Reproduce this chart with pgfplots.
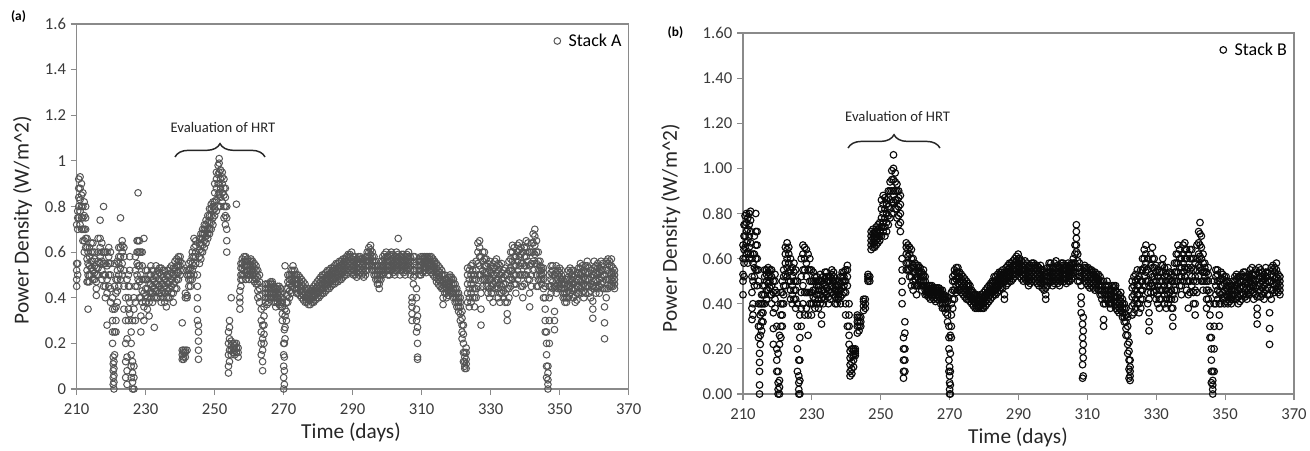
\documentclass[border=0pt]{standalone}
\usepackage{fontspec}
\setmainfont{Carlito}
\usepackage{pgfplots}
\usepackage{pgfplotstable}
\pgfplotsset{compat=1.18}
\usetikzlibrary{decorations.pathreplacing}

\definecolor{axisgray}{HTML}{8A8A8A}
\definecolor{tickgray}{HTML}{3A3A3A}
\definecolor{markA}{HTML}{555555}
\definecolor{markB}{HTML}{0A0A0A}

% Stack A: day, then up to five readings per row (nan = none)
\pgfplotstableread{
x a b c d e
210.0 0.45 0.48 0.52 0.55 0.72
210.3 0.50 0.70 0.75 0.78 0.55
210.6 0.75 0.80 0.84 0.88 0.92
211.0 0.72 0.78 0.83 0.88 0.93
211.4 0.70 0.75 0.80 0.85 0.90
211.8 0.65 0.70 0.75 0.80 0.86
212.2 0.60 0.65 0.70 0.76 0.82
212.6 0.62 0.66 0.70 0.75 0.80
213.0 0.47 0.52 0.57 0.62 0.66
213.3 0.35 0.47 0.50 0.55 0.60
213.7 0.47 0.50 0.54 0.58 0.62
214.2 0.50 0.53 0.56 0.60 0.64
214.7 0.48 0.52 0.56 0.60 0.64
215.2 0.48 0.51 0.54 0.57 0.60
215.7 0.41 0.44 0.47 0.50 0.53
216.2 0.50 0.53 0.56 0.60 0.66
216.8 0.55 0.58 0.62 0.66 0.74
217.3 0.48 0.52 0.56 0.60 0.64
217.8 0.45 0.50 0.55 0.60 0.80
218.3 0.40 0.45 0.50 0.55 0.60
218.8 0.28 0.42 0.48 0.54 0.60
219.3 0.45 0.50 0.55 0.58 0.62
219.8 0.38 0.44 0.50 0.55 0.60
220.4 0.20 0.25 0.30 0.35 0.40
220.6 0.02 0.05 0.08 0.11 0.14
220.8 0.00 0.03 0.06 0.09 0.12
221.0 0.15 0.25 0.35 0.45 0.55
221.4 0.25 0.30 0.36 0.42 0.48
221.8 0.38 0.43 0.48 0.52 0.56
222.2 0.45 0.50 0.55 0.58 0.62
222.7 0.48 0.53 0.58 0.62 0.75
223.2 0.50 0.55 0.60 0.63 0.65
223.7 0.35 0.45 0.52 0.58 0.62
224.2 0.05 0.12 0.20 0.30 0.40
224.6 0.02 0.08 0.14 0.22 0.48
225.0 0.30 0.35 0.40 0.45 0.50
225.4 0.33 0.38 0.45 0.52 0.58
225.8 0.05 0.10 0.15 0.20 0.25
226.2 0.00 0.03 0.07 0.12 0.30
226.6 0.00 0.05 0.10 0.35 0.40
227.0 0.30 0.38 0.45 0.52 0.58
227.5 0.45 0.50 0.55 0.60 0.65
227.8 0.48 0.54 0.60 0.65 0.86
228.2 0.40 0.47 0.54 0.60 0.65
228.6 0.25 0.32 0.40 0.50 0.60
229.0 0.38 0.43 0.48 0.54 0.60
229.5 0.30 0.36 0.42 0.48 0.66
230.0 0.38 0.41 0.44 0.48 0.52
230.5 0.35 0.40 0.44 0.48 0.52
231.0 0.32 0.38 0.42 0.46 0.50
231.5 0.40 0.43 0.46 0.50 0.54
232.0 0.38 0.42 0.45 0.48 0.52
232.5 0.27 0.40 0.44 0.47 0.50
233.0 0.40 0.43 0.46 0.49 0.54
233.5 0.40 0.43 0.46 0.50 0.52
234.0 0.42 0.45 0.48 0.51 0.53
234.5 0.38 0.42 0.46 0.50 0.53
235.0 0.40 0.43 0.46 0.49 0.52
235.5 0.38 0.42 0.45 0.48 0.52
236.0 0.36 0.40 0.44 0.47 0.50
236.5 0.40 0.43 0.46 0.49 0.52
237.0 0.40 0.44 0.47 0.50 0.53
237.5 0.42 0.45 0.48 0.51 0.54
238.0 0.38 0.42 0.46 0.50 0.53
238.5 0.44 0.47 0.50 0.53 0.56
239.0 0.44 0.48 0.51 0.54 0.57
239.5 0.48 0.51 0.54 0.56 0.58
240.0 0.50 0.52 0.54 0.56 0.58
240.6 0.13 0.15 0.17 0.29 0.55
241.0 0.13 0.14 0.16 0.17 0.52
241.5 0.14 0.16 0.17 0.40 0.42
242.0 0.40 0.41 0.17 0.50 0.52
242.5 0.45 0.48 0.50 0.52 0.55
243.0 0.45 0.48 0.50 0.53 0.56
243.5 0.48 0.52 0.55 0.58 0.60
244.0 0.50 0.54 0.58 0.62 0.66
244.5 0.55 0.58 0.60 0.63 0.65
245.0 0.30 0.35 0.40 0.45 0.50
245.3 0.13 0.17 0.21 0.25 0.28
245.6 0.55 0.58 0.61 0.64 0.66
246.0 0.57 0.60 0.63 0.66 0.68
246.5 0.60 0.63 0.66 0.68 0.70
247.0 0.62 0.65 0.68 0.70 0.72
247.5 0.64 0.67 0.70 0.72 0.74
248.0 0.66 0.68 0.70 0.73 0.76
248.5 0.68 0.70 0.73 0.76 0.79
249.0 0.70 0.73 0.76 0.79 0.81
249.5 0.72 0.75 0.78 0.80 0.82
250.0 0.76 0.79 0.82 0.86 0.90
250.5 0.78 0.83 0.88 0.92 0.95
251.0 0.80 0.85 0.90 0.94 0.98
251.3 0.86 0.90 0.95 0.99 1.01
251.7 0.80 0.84 0.88 0.92 0.96
252.2 0.82 0.86 0.90 0.93 0.95
252.7 0.75 0.80 0.85 0.88 0.92
253.1 0.72 0.76 0.80 0.84 0.88
253.5 0.60 0.65 0.70 0.75 0.80
254.0 0.07 0.10 0.15 0.20 0.25
254.3 0.12 0.17 0.22 0.27 0.30
254.8 0.15 0.17 0.19 0.21 0.40
255.3 0.16 0.18 0.20 nan nan
255.8 0.15 0.17 0.19 0.20 nan
256.3 0.16 0.18 0.20 0.81 nan
256.8 0.14 0.16 0.18 nan nan
257.3 0.35 0.38 0.40 0.43 nan
257.6 0.45 0.48 0.50 0.53 0.55
258.0 0.48 0.50 0.53 0.55 0.57
258.5 0.50 0.52 0.54 0.56 0.58
259.0 0.48 0.51 0.54 0.56 0.58
259.5 0.50 0.52 0.54 0.56 0.57
260.0 0.48 0.50 0.52 0.54 0.56
260.5 0.50 0.52 0.54 0.56 0.57
261.0 0.48 0.50 0.52 0.54 0.56
261.5 0.47 0.49 0.51 0.53 0.55
262.0 0.46 0.48 0.50 0.52 0.54
262.5 0.40 0.43 0.46 0.49 0.52
263.0 0.38 0.41 0.44 0.47 0.50
263.5 0.15 0.20 0.25 0.30 0.35
263.9 0.08 0.12 0.17 0.22 0.28
264.3 0.20 0.24 0.28 0.32 0.36
264.7 0.38 0.40 0.42 0.44 0.46
265.2 0.37 0.40 0.42 0.44 0.46
265.7 0.38 0.40 0.42 0.44 0.46
266.2 0.40 0.42 0.44 0.46 0.47
266.7 0.40 0.42 0.44 0.46 0.47
267.2 0.38 0.40 0.42 0.44 0.45
267.7 0.36 0.38 0.40 0.42 0.44
268.2 0.38 0.40 0.42 0.44 0.45
268.7 0.37 0.39 0.41 0.43 0.45
269.2 0.36 0.38 0.40 0.42 0.44
269.6 0.30 0.33 0.36 0.38 0.40
270.0 0.00 0.05 0.10 0.15 0.20
270.2 0.02 0.08 0.14 0.20 0.26
270.4 0.22 0.27 0.32 0.35 0.54
270.8 0.30 0.34 0.38 0.41 0.44
271.2 0.38 0.41 0.44 0.47 0.50
271.7 0.40 0.43 0.46 0.48 0.50
272.2 0.42 0.45 0.48 0.50 0.52
272.7 0.45 0.47 0.50 0.52 0.54
273.2 0.44 0.46 0.48 0.50 0.52
273.7 0.42 0.44 0.46 0.48 0.50
274.2 0.42 0.44 0.46 0.48 0.50
274.7 0.41 0.43 0.45 0.47 0.49
275.2 0.40 0.42 0.44 0.46 0.48
275.7 0.39 0.41 0.43 0.45 0.47
276.2 0.38 0.40 0.42 0.44 0.46
276.7 0.38 0.40 0.41 0.43 0.44
277.2 0.37 0.39 0.41 0.42 0.44
277.7 0.37 0.39 0.40 0.42 0.43
278.2 0.38 0.40 0.41 0.43 0.44
278.7 0.38 0.40 0.42 0.43 0.45
279.2 0.39 0.41 0.43 0.44 0.46
279.7 0.40 0.42 0.44 0.45 0.47
280.2 0.40 0.42 0.44 0.46 0.48
280.7 0.41 0.43 0.45 0.47 0.49
281.2 0.42 0.44 0.46 0.48 0.50
281.7 0.42 0.44 0.46 0.48 0.50
282.2 0.43 0.45 0.47 0.49 0.51
282.7 0.44 0.46 0.48 0.50 0.52
283.2 0.44 0.46 0.48 0.50 0.52
283.7 0.45 0.47 0.49 0.51 0.53
284.2 0.46 0.48 0.50 0.52 0.53
284.7 0.46 0.48 0.50 0.52 0.54
285.2 0.47 0.49 0.51 0.53 0.55
285.7 0.47 0.49 0.51 0.53 0.55
286.2 0.48 0.50 0.52 0.54 0.56
286.7 0.48 0.50 0.52 0.54 0.56
287.2 0.49 0.51 0.53 0.55 0.57
287.7 0.50 0.52 0.54 0.56 0.57
288.2 0.50 0.52 0.54 0.56 0.58
288.7 0.51 0.53 0.55 0.57 0.59
289.2 0.52 0.54 0.56 0.58 0.59
289.7 0.51 0.53 0.55 0.57 0.60
290.2 0.50 0.52 0.54 0.56 0.58
290.7 0.50 0.52 0.54 0.56 0.58
291.2 0.49 0.51 0.53 0.55 0.57
291.7 0.50 0.52 0.54 0.56 0.58
292.2 0.51 0.53 0.55 0.57 0.58
292.7 0.50 0.52 0.54 0.56 0.57
293.2 0.49 0.51 0.53 0.55 0.57
293.7 0.50 0.52 0.54 0.56 0.58
294.2 0.52 0.54 0.56 0.58 0.60
294.7 0.54 0.56 0.58 0.60 0.62
295.2 0.55 0.57 0.59 0.61 0.63
295.7 0.52 0.54 0.56 0.58 0.60
296.2 0.50 0.52 0.54 0.56 0.58
296.7 0.48 0.50 0.52 0.54 0.56
297.2 0.46 0.48 0.50 0.52 0.54
297.7 0.44 0.46 0.48 0.50 0.52
298.2 0.48 0.50 0.52 0.54 0.56
298.7 0.50 0.52 0.54 0.56 0.58
299.2 0.51 0.53 0.55 0.57 0.59
299.7 0.52 0.54 0.56 0.58 0.60
300.2 0.50 0.52 0.54 0.56 0.58
300.7 0.50 0.52 0.54 0.56 0.59
301.2 0.52 0.54 0.56 0.58 0.60
301.7 0.51 0.53 0.55 0.57 0.59
302.2 0.50 0.52 0.54 0.56 0.58
302.7 0.52 0.54 0.56 0.58 0.60
303.2 0.53 0.55 0.57 0.59 0.66
303.7 0.50 0.52 0.54 0.56 0.58
304.2 0.52 0.54 0.56 0.58 0.59
304.7 0.51 0.53 0.55 0.57 0.59
305.2 0.50 0.52 0.54 0.56 0.58
305.7 0.52 0.54 0.56 0.58 0.59
306.2 0.53 0.55 0.57 0.58 0.60
306.7 0.50 0.52 0.54 0.56 0.58
307.2 0.30 0.33 0.36 0.38 0.40
307.6 0.46 0.49 0.52 0.55 0.58
308.0 0.50 0.52 0.54 0.56 0.58
308.5 0.25 0.30 0.35 0.40 0.44
308.8 0.13 0.14 0.20 0.27 0.32
309.3 0.50 0.52 0.54 0.56 0.57
309.8 0.50 0.52 0.54 0.56 0.58
310.3 0.51 0.53 0.55 0.57 0.58
310.8 0.52 0.54 0.56 0.57 0.58
311.3 0.51 0.53 0.55 0.56 0.58
311.8 0.52 0.54 0.55 0.57 0.58
312.3 0.52 0.54 0.55 0.57 0.58
312.8 0.51 0.53 0.55 0.56 0.58
313.3 0.50 0.52 0.54 0.56 0.57
313.8 0.49 0.51 0.53 0.55 0.56
314.3 0.47 0.49 0.51 0.53 0.55
314.8 0.46 0.48 0.50 0.52 0.54
315.3 0.45 0.47 0.49 0.51 0.53
315.8 0.44 0.46 0.48 0.50 0.52
316.2 0.37 0.40 0.44 0.47 0.50
316.7 0.42 0.44 0.46 0.48 0.50
317.2 0.40 0.42 0.44 0.46 0.48
317.7 0.41 0.43 0.45 0.47 0.49
318.2 0.43 0.45 0.47 0.49 0.50
318.7 0.42 0.44 0.46 0.48 0.49
319.2 0.40 0.42 0.44 0.46 0.48
319.7 0.38 0.40 0.42 0.44 0.46
320.2 0.36 0.38 0.40 0.42 0.44
320.7 0.34 0.36 0.38 0.40 0.42
321.2 0.30 0.33 0.36 0.38 0.40
321.7 0.22 0.25 0.28 0.31 0.34
322.1 0.12 0.16 0.20 0.24 0.28
322.5 0.09 0.10 0.12 0.14 0.16
322.9 0.09 0.11 0.13 0.16 0.18
323.3 0.38 0.42 0.46 0.50 0.53
323.8 0.36 0.40 0.44 0.48 0.52
324.3 0.38 0.42 0.46 0.50 0.54
324.8 0.40 0.44 0.48 0.52 0.55
325.3 0.36 0.40 0.44 0.48 0.50
325.8 0.40 0.44 0.48 0.52 0.56
326.3 0.45 0.50 0.55 0.60 0.64
326.8 0.50 0.54 0.58 0.62 0.65
327.2 0.28 0.35 0.42 0.50 0.58
327.7 0.45 0.48 0.52 0.56 0.60
328.2 0.48 0.51 0.54 0.57 0.60
328.7 0.45 0.48 0.51 0.54 0.57
329.2 0.42 0.45 0.48 0.51 0.55
329.7 0.40 0.44 0.48 0.52 0.56
330.2 0.42 0.45 0.48 0.51 0.54
330.7 0.38 0.42 0.46 0.50 0.53
331.2 0.44 0.47 0.50 0.53 0.56
331.7 0.45 0.48 0.51 0.54 0.57
332.2 0.40 0.44 0.48 0.52 0.55
332.7 0.38 0.42 0.46 0.50 0.54
333.2 0.42 0.45 0.48 0.51 0.55
333.7 0.40 0.43 0.46 0.49 0.52
334.2 0.38 0.42 0.46 0.50 0.53
334.8 0.30 0.33 0.38 0.44 0.50
335.3 0.40 0.44 0.48 0.52 0.56
335.8 0.45 0.49 0.53 0.57 0.60
336.3 0.48 0.52 0.56 0.60 0.63
336.8 0.46 0.50 0.54 0.58 0.62
337.3 0.42 0.46 0.50 0.54 0.58
337.8 0.48 0.52 0.56 0.60 0.63
338.3 0.50 0.54 0.58 0.61 0.64
338.8 0.45 0.50 0.55 0.59 0.62
339.3 0.40 0.45 0.50 0.55 0.60
339.8 0.46 0.50 0.54 0.58 0.62
340.3 0.50 0.54 0.58 0.62 0.65
340.8 0.48 0.52 0.56 0.60 0.64
341.3 0.36 0.42 0.48 0.54 0.60
341.8 0.45 0.50 0.55 0.60 0.64
342.3 0.52 0.56 0.60 0.64 0.68
342.8 0.55 0.59 0.63 0.67 0.70
343.3 0.45 0.50 0.55 0.60 0.65
343.8 0.45 0.48 0.52 0.56 0.60
344.3 0.48 0.50 0.52 0.54 0.56
344.8 0.46 0.48 0.50 0.52 0.53
345.3 0.40 0.44 0.48 0.51 0.53
345.8 0.25 0.30 0.35 0.40 0.45
346.2 0.05 0.10 0.15 0.20 0.25
346.6 0.00 0.02 0.04 0.07 0.10
347.0 0.20 0.30 0.40 0.45 0.50
347.5 0.42 0.45 0.48 0.51 0.54
348.0 0.44 0.47 0.50 0.52 0.54
348.5 0.26 0.30 0.34 0.45 0.50
349.0 0.42 0.45 0.48 0.51 0.54
349.5 0.44 0.46 0.48 0.50 0.52
350.0 0.45 0.47 0.49 0.51 0.53
350.5 0.44 0.46 0.48 0.50 0.52
351.0 0.40 0.42 0.44 0.46 0.48
351.5 0.38 0.40 0.42 0.44 0.46
352.0 0.38 0.40 0.42 0.45 0.48
352.5 0.40 0.43 0.46 0.49 0.52
353.0 0.42 0.45 0.48 0.51 0.53
353.5 0.44 0.46 0.48 0.50 0.52
354.0 0.40 0.43 0.46 0.49 0.52
354.5 0.38 0.41 0.44 0.47 0.50
355.0 0.39 0.42 0.45 0.48 0.51
355.5 0.42 0.45 0.48 0.51 0.53
356.0 0.44 0.47 0.50 0.53 0.55
356.5 0.42 0.45 0.48 0.51 0.54
357.0 0.40 0.43 0.46 0.49 0.52
357.5 0.42 0.45 0.48 0.51 0.54
358.0 0.45 0.48 0.51 0.54 0.56
358.5 0.42 0.45 0.48 0.51 0.53
359.0 0.40 0.43 0.46 0.49 0.52
359.6 0.31 0.35 0.385 0.45 0.50
360.0 0.44 0.47 0.50 0.53 0.56
360.5 0.42 0.45 0.48 0.51 0.54
361.0 0.44 0.47 0.50 0.53 0.55
361.5 0.42 0.45 0.48 0.51 0.53
362.0 0.46 0.49 0.52 0.54 0.56
362.5 0.44 0.47 0.50 0.52 0.55
363.0 0.22 0.29 0.36 0.44 0.50
363.5 0.40 0.44 0.48 0.52 0.56
364.0 0.44 0.48 0.52 0.55 0.57
364.5 0.45 0.48 0.51 0.54 0.56
365.0 0.45 0.48 0.51 0.54 0.57
365.5 0.45 0.47 0.49 0.51 0.53
365.9 0.44 0.46 0.48 0.50 0.52
}\stackA

% Stack B
\pgfplotstableread{
x a b c d e
210.0 0.44 0.50 0.53 0.60 0.66
210.3 0.52 0.58 0.64 0.70 0.75
210.6 0.60 0.65 0.70 0.75 0.79
211.0 0.62 0.67 0.72 0.76 0.80
211.4 0.58 0.63 0.68 0.73 0.78
211.8 0.60 0.65 0.70 0.75 0.80
212.2 0.62 0.67 0.72 0.77 0.81
212.6 0.33 0.38 0.45 0.52 0.60
212.9 0.35 0.40 0.50 0.58 0.62
213.3 0.48 0.52 0.56 0.62 0.70
213.7 0.55 0.60 0.66 0.72 0.80
214.1 0.48 0.55 0.60 0.66 0.72
214.5 0.25 0.30 0.40 0.50 0.55
214.8 0.00 0.04 0.10 0.14 0.18
215.0 0.22 0.26 0.30 0.35 0.40
215.4 0.28 0.32 0.36 0.40 0.44
215.8 0.32 0.36 0.40 0.44 0.48
216.3 0.40 0.44 0.48 0.52 0.55
216.8 0.42 0.46 0.50 0.53 0.55
217.3 0.46 0.49 0.52 0.54 0.56
217.8 0.44 0.47 0.50 0.53 0.55
218.3 0.40 0.44 0.48 0.52 0.55
218.8 0.22 0.29 0.36 0.45 0.50
219.3 0.38 0.42 0.46 0.50 0.53
219.8 0.10 0.15 0.20 0.30 0.45
220.2 0.00 0.02 0.05 0.10 0.18
220.6 0.00 0.03 0.06 0.22 0.26
221.0 0.25 0.30 0.35 0.40 0.45
221.4 0.30 0.35 0.40 0.45 0.50
221.8 0.40 0.44 0.48 0.52 0.55
222.3 0.48 0.53 0.58 0.62 0.65
222.8 0.52 0.56 0.60 0.64 0.67
223.3 0.50 0.54 0.58 0.62 0.65
223.8 0.42 0.46 0.50 0.55 0.60
224.3 0.40 0.44 0.48 0.52 0.56
224.8 0.42 0.46 0.50 0.54 0.58
225.3 0.38 0.42 0.46 0.50 0.55
225.8 0.10 0.20 0.30 0.40 0.50
226.2 0.00 0.02 0.05 0.08 0.15
226.5 0.00 0.06 0.15 0.25 0.35
226.9 0.30 0.38 0.45 0.52 0.60
227.4 0.40 0.48 0.55 0.62 0.66
227.9 0.35 0.45 0.55 0.60 0.65
228.4 0.38 0.45 0.52 0.58 0.64
228.9 0.26 0.35 0.45 0.55 0.62
229.4 0.40 0.45 0.50 0.55 0.60
229.9 0.35 0.40 0.45 0.50 0.55
230.4 0.40 0.43 0.46 0.50 0.54
230.9 0.38 0.42 0.46 0.50 0.52
231.4 0.40 0.44 0.48 0.50 0.52
231.9 0.38 0.42 0.46 0.48 0.50
232.4 0.40 0.44 0.48 0.50 0.53
232.8 0.31 0.35 0.42 0.46 0.50
233.3 0.40 0.43 0.46 0.49 0.52
233.8 0.42 0.45 0.48 0.51 0.54
234.3 0.44 0.47 0.50 0.52 0.54
234.8 0.40 0.43 0.46 0.50 0.52
235.3 0.42 0.45 0.48 0.50 0.52
235.8 0.45 0.48 0.51 0.53 0.55
236.3 0.44 0.47 0.50 0.52 0.54
236.8 0.40 0.43 0.46 0.48 0.50
237.3 0.40 0.42 0.44 0.46 0.48
237.8 0.42 0.44 0.46 0.48 0.50
238.3 0.40 0.43 0.46 0.49 0.52
238.8 0.44 0.47 0.50 0.52 0.54
239.3 0.45 0.48 0.50 0.52 0.54
239.8 0.35 0.40 0.45 0.50 0.55
240.3 0.30 0.48 0.52 0.55 0.57
240.8 0.22 0.26 0.30 0.35 0.40
241.1 0.08 0.10 0.13 0.16 0.19
241.6 0.09 0.11 0.14 0.17 0.20
242.1 0.12 0.15 0.17 0.19 0.20
242.6 0.17 0.18 0.19 0.20 nan
243.2 0.27 0.30 0.32 0.34 0.35
243.7 0.28 0.30 0.32 0.34 nan
244.2 0.30 0.32 0.34 nan nan
245.0 0.37 0.39 0.41 0.42 nan
245.5 0.38 0.40 0.42 nan nan
246.3 0.50 0.51 0.52 0.53 nan
246.8 0.50 0.52 nan nan nan
247.2 0.64 0.66 0.68 0.70 0.72
247.7 0.65 0.67 0.69 0.71 0.73
248.2 0.65 0.67 0.69 0.71 0.72
248.7 0.66 0.68 0.70 0.72 0.74
249.2 0.67 0.69 0.71 0.73 0.75
249.7 0.68 0.70 0.72 0.74 0.76
250.2 0.70 0.74 0.78 0.82 0.86
250.7 0.72 0.76 0.80 0.84 0.88
251.2 0.70 0.74 0.78 0.82 0.87
251.7 0.72 0.76 0.80 0.84 0.86
252.2 0.75 0.79 0.83 0.87 0.90
252.7 0.78 0.82 0.86 0.90 0.94
253.2 0.80 0.85 0.90 0.95 0.99
253.7 0.85 0.90 0.95 1.00 1.06
254.2 0.82 0.86 0.90 0.94 0.98
254.7 0.78 0.82 0.86 0.90 0.93
255.2 0.75 0.79 0.83 0.87 0.90
255.7 0.72 0.76 0.80 0.84 0.88
256.2 0.40 0.45 0.50 0.55 0.60
256.6 0.07 0.10 0.15 0.20 0.25
257.0 0.10 0.15 0.20 0.27 0.32
257.4 0.55 0.58 0.62 0.65 0.67
257.9 0.55 0.58 0.61 0.64 0.66
258.4 0.52 0.55 0.58 0.62 0.65
258.9 0.48 0.52 0.56 0.60 0.64
259.4 0.46 0.50 0.54 0.57 0.60
259.9 0.48 0.51 0.54 0.56 0.58
260.4 0.44 0.48 0.52 0.55 0.57
260.9 0.48 0.51 0.54 0.56 0.57
261.4 0.48 0.50 0.52 0.54 0.56
261.9 0.46 0.48 0.50 0.52 0.54
262.4 0.48 0.50 0.52 0.53 0.55
262.9 0.44 0.46 0.48 0.50 0.52
263.4 0.44 0.45 0.46 0.47 0.48
263.9 0.43 0.44 0.45 0.46 0.48
264.4 0.42 0.44 0.45 0.46 0.48
264.9 0.43 0.44 0.46 0.47 0.48
265.4 0.42 0.44 0.45 0.46 0.47
265.9 0.41 0.43 0.45 0.46 0.47
266.4 0.42 0.44 0.45 0.46 0.47
266.9 0.43 0.44 0.45 0.46 0.47
267.4 0.40 0.42 0.44 0.45 0.46
267.9 0.38 0.40 0.42 0.44 0.46
268.4 0.38 0.40 0.42 0.43 0.44
268.9 0.36 0.38 0.40 0.42 0.43
269.4 0.32 0.35 0.38 0.41 0.43
269.8 0.10 0.15 0.20 0.25 0.30
270.0 0.00 0.02 0.05 0.08 0.12
270.2 0.00 0.04 0.10 0.18 0.26
270.5 0.25 0.30 0.35 0.40 0.45
270.9 0.38 0.42 0.46 0.50 0.52
271.4 0.42 0.46 0.50 0.53 0.55
271.9 0.45 0.48 0.51 0.54 0.56
272.4 0.46 0.49 0.52 0.54 0.56
272.9 0.46 0.48 0.50 0.52 0.54
273.4 0.45 0.47 0.49 0.51 0.53
273.9 0.44 0.46 0.48 0.50 0.52
274.4 0.43 0.45 0.47 0.49 0.51
274.9 0.42 0.44 0.46 0.48 0.50
275.4 0.42 0.44 0.46 0.48 0.49
275.9 0.41 0.43 0.44 0.46 0.48
276.4 0.40 0.42 0.43 0.45 0.46
276.9 0.39 0.41 0.42 0.44 0.45
277.4 0.38 0.40 0.41 0.43 0.44
277.9 0.38 0.39 0.41 0.42 0.44
278.4 0.38 0.39 0.40 0.42 0.43
278.9 0.38 0.39 0.41 0.42 0.44
279.4 0.38 0.40 0.41 0.43 0.44
279.9 0.38 0.40 0.42 0.43 0.45
280.4 0.39 0.41 0.43 0.44 0.46
280.9 0.40 0.42 0.44 0.45 0.47
281.4 0.41 0.43 0.45 0.46 0.48
281.9 0.42 0.44 0.46 0.48 0.49
282.4 0.43 0.45 0.47 0.49 0.50
282.9 0.44 0.46 0.48 0.50 0.52
283.4 0.44 0.46 0.48 0.50 0.52
283.9 0.45 0.47 0.49 0.51 0.53
284.4 0.46 0.48 0.50 0.52 0.54
284.9 0.47 0.49 0.51 0.53 0.54
285.4 0.47 0.49 0.51 0.53 0.55
285.9 0.42 0.44 0.50 0.52 0.54
286.4 0.48 0.50 0.52 0.54 0.56
286.9 0.49 0.51 0.53 0.55 0.57
287.4 0.50 0.52 0.54 0.56 0.58
287.9 0.50 0.52 0.54 0.56 0.58
288.4 0.51 0.53 0.55 0.57 0.59
288.9 0.52 0.54 0.56 0.58 0.60
289.4 0.53 0.55 0.57 0.59 0.61
289.9 0.54 0.56 0.58 0.60 0.62
290.4 0.52 0.54 0.56 0.58 0.60
290.9 0.51 0.53 0.55 0.57 0.59
291.4 0.50 0.52 0.54 0.56 0.58
291.9 0.51 0.53 0.55 0.57 0.59
292.4 0.50 0.52 0.54 0.56 0.58
292.9 0.48 0.50 0.52 0.54 0.56
293.4 0.49 0.51 0.53 0.55 0.57
293.9 0.50 0.52 0.54 0.56 0.58
294.4 0.51 0.53 0.55 0.57 0.58
294.9 0.50 0.52 0.54 0.56 0.57
295.4 0.49 0.51 0.53 0.55 0.57
295.9 0.48 0.50 0.52 0.54 0.56
296.4 0.49 0.51 0.53 0.55 0.57
296.9 0.47 0.49 0.51 0.53 0.55
297.4 0.46 0.48 0.50 0.52 0.54
297.9 0.42 0.44 0.47 0.50 0.53
298.4 0.48 0.50 0.52 0.54 0.56
298.9 0.50 0.52 0.54 0.56 0.58
299.4 0.50 0.52 0.54 0.56 0.58
299.9 0.48 0.50 0.52 0.54 0.56
300.4 0.49 0.51 0.53 0.55 0.58
300.9 0.50 0.52 0.54 0.56 0.59
301.4 0.49 0.51 0.53 0.55 0.57
301.9 0.48 0.50 0.52 0.54 0.56
302.4 0.50 0.52 0.54 0.56 0.58
302.9 0.51 0.53 0.55 0.57 0.58
303.4 0.50 0.52 0.54 0.56 0.57
303.9 0.49 0.51 0.53 0.55 0.57
304.4 0.50 0.52 0.54 0.56 0.58
304.9 0.50 0.52 0.54 0.56 0.57
305.4 0.51 0.53 0.55 0.57 0.58
305.9 0.52 0.54 0.56 0.58 0.60
306.4 0.54 0.56 0.58 0.62 0.66
306.8 0.63 0.66 0.69 0.72 0.75
307.2 0.50 0.53 0.56 0.59 0.62
307.7 0.50 0.52 0.54 0.56 0.58
308.2 0.36 0.40 0.43 0.48 0.52
308.6 0.07 0.13 0.19 0.25 0.31
308.8 0.08 0.16 0.22 0.28 0.34
309.2 0.50 0.52 0.54 0.56 0.57
309.7 0.49 0.51 0.53 0.55 0.56
310.2 0.48 0.50 0.52 0.54 0.56
310.7 0.47 0.49 0.51 0.53 0.55
311.2 0.48 0.50 0.52 0.54 0.55
311.7 0.47 0.49 0.51 0.53 0.54
312.2 0.46 0.48 0.50 0.52 0.54
312.7 0.47 0.49 0.51 0.52 0.53
313.2 0.46 0.48 0.50 0.51 0.53
313.7 0.44 0.46 0.48 0.50 0.52
314.2 0.42 0.44 0.46 0.48 0.50
314.7 0.30 0.33 0.40 0.45 0.50
315.2 0.40 0.42 0.44 0.46 0.48
315.7 0.42 0.44 0.46 0.48 0.50
316.2 0.40 0.42 0.44 0.46 0.48
316.7 0.38 0.40 0.42 0.44 0.46
317.2 0.40 0.42 0.44 0.46 0.48
317.7 0.41 0.43 0.45 0.47 0.48
318.2 0.38 0.40 0.43 0.46 0.48
318.7 0.37 0.39 0.41 0.43 0.45
319.2 0.36 0.38 0.40 0.42 0.44
319.7 0.37 0.39 0.41 0.43 0.45
320.2 0.34 0.36 0.38 0.40 0.42
320.7 0.32 0.34 0.36 0.38 0.40
321.2 0.26 0.29 0.32 0.35 0.38
321.7 0.18 0.22 0.26 0.30 0.34
322.1 0.07 0.11 0.15 0.19 0.23
322.4 0.06 0.08 0.10 0.12 0.15
323.0 0.35 0.39 0.43 0.47 0.50
323.5 0.36 0.40 0.44 0.48 0.52
324.0 0.38 0.42 0.46 0.50 0.53
324.5 0.40 0.44 0.48 0.51 0.55
325.0 0.36 0.40 0.44 0.48 0.52
325.5 0.38 0.42 0.46 0.50 0.55
326.0 0.42 0.46 0.50 0.55 0.60
326.5 0.48 0.52 0.56 0.60 0.64
327.0 0.50 0.54 0.58 0.62 0.66
327.5 0.40 0.45 0.50 0.55 0.60
327.9 0.28 0.32 0.36 0.42 0.48
328.4 0.45 0.49 0.53 0.57 0.62
328.9 0.48 0.52 0.56 0.60 0.65
329.4 0.45 0.48 0.52 0.56 0.60
329.9 0.42 0.46 0.50 0.54 0.57
330.4 0.40 0.44 0.48 0.52 0.55
330.9 0.38 0.42 0.46 0.50 0.54
331.4 0.42 0.46 0.50 0.54 0.57
331.9 0.46 0.50 0.54 0.57 0.60
332.4 0.40 0.44 0.48 0.52 0.56
332.9 0.38 0.42 0.46 0.50 0.53
333.4 0.40 0.44 0.48 0.52 0.56
333.9 0.42 0.45 0.48 0.51 0.54
334.4 0.38 0.42 0.46 0.50 0.53
334.8 0.30 0.34 0.38 0.44 0.50
335.3 0.42 0.46 0.50 0.54 0.58
335.8 0.46 0.50 0.54 0.58 0.62
336.3 0.50 0.54 0.58 0.62 0.66
336.8 0.48 0.52 0.56 0.60 0.64
337.3 0.44 0.48 0.52 0.56 0.60
337.8 0.50 0.54 0.58 0.62 0.66
338.3 0.52 0.56 0.60 0.64 0.67
338.8 0.46 0.50 0.55 0.60 0.64
339.3 0.38 0.44 0.50 0.56 0.62
339.8 0.45 0.50 0.55 0.60 0.64
340.3 0.48 0.52 0.56 0.60 0.64
340.8 0.40 0.45 0.50 0.55 0.60
341.3 0.35 0.40 0.46 0.52 0.58
341.8 0.45 0.50 0.55 0.60 0.66
342.3 0.52 0.57 0.62 0.67 0.72
342.7 0.56 0.61 0.66 0.71 0.76
343.1 0.50 0.55 0.60 0.65 0.70
343.6 0.46 0.50 0.54 0.58 0.62
344.1 0.50 0.52 0.54 0.56 0.58
344.6 0.38 0.42 0.46 0.50 0.54
345.1 0.42 0.46 0.50 0.53 0.56
345.6 0.25 0.30 0.35 0.40 0.45
346.0 0.05 0.10 0.15 0.20 0.25
346.4 0.00 0.02 0.04 0.06 0.10
346.8 0.10 0.20 0.30 0.40 0.50
347.3 0.40 0.44 0.48 0.52 0.55
347.8 0.42 0.46 0.50 0.53 0.55
348.3 0.30 0.35 0.40 0.45 0.50
348.8 0.40 0.44 0.48 0.51 0.54
349.3 0.42 0.45 0.48 0.51 0.53
349.8 0.40 0.43 0.46 0.49 0.52
350.3 0.41 0.44 0.47 0.50 0.52
350.8 0.40 0.43 0.46 0.48 0.50
351.3 0.41 0.43 0.45 0.47 0.49
351.8 0.40 0.42 0.44 0.46 0.48
352.3 0.42 0.44 0.46 0.48 0.50
352.8 0.44 0.46 0.48 0.50 0.52
353.3 0.42 0.45 0.48 0.51 0.53
353.8 0.40 0.43 0.46 0.49 0.52
354.3 0.41 0.44 0.47 0.50 0.52
354.8 0.42 0.45 0.48 0.50 0.53
355.3 0.44 0.47 0.50 0.52 0.54
355.8 0.43 0.46 0.49 0.52 0.54
356.3 0.42 0.44 0.47 0.50 0.52
356.8 0.44 0.46 0.49 0.51 0.53
357.3 0.45 0.47 0.50 0.52 0.55
357.8 0.46 0.48 0.50 0.53 0.56
358.3 0.42 0.45 0.48 0.51 0.53
358.8 0.44 0.47 0.50 0.53 0.55
359.3 0.31 0.35 0.38 0.43 0.48
359.8 0.45 0.48 0.51 0.54 0.56
360.3 0.43 0.46 0.49 0.52 0.55
360.8 0.44 0.47 0.50 0.52 0.54
361.3 0.42 0.45 0.48 0.51 0.53
361.8 0.46 0.49 0.52 0.54 0.56
362.3 0.44 0.47 0.50 0.52 0.54
362.9 0.22 0.29 0.36 0.44 0.50
363.4 0.42 0.46 0.50 0.53 0.56
363.9 0.46 0.49 0.52 0.55 0.57
364.4 0.45 0.48 0.51 0.54 0.56
364.9 0.46 0.49 0.52 0.55 0.58
365.4 0.45 0.47 0.49 0.51 0.53
365.9 0.44 0.46 0.48 0.50 0.52
}\stackB

\pgfplotsset{
  stackaxis/.style={
    scale only axis, anchor=south west, clip=false,
    xmin=210, xmax=370, ymin=0, ymax=1.6,
    xtick={210,230,250,270,290,310,330,350,370},
    ytick={0,0.2,0.4,0.6,0.8,1,1.2,1.4,1.6},
    tick align=outside, major tick length=4.5pt,
    xtick pos=bottom, ytick pos=left,
    axis line style={axisgray, line width=0.8pt},
    every tick/.style={axisgray, line width=0.8pt},
    /pgf/number format/assume math mode=true,
    ticklabel style={font=\fontsize{12.5}{14}\selectfont, text=tickgray},
    xticklabel style={yshift=-3pt},
    label style={font=\fontsize{16}{18}\selectfont, text=black!85},
    xlabel={Time (days)},
    ylabel={Power Density (W/m\^{}2)},
    legend style={draw=none, fill=none, font=\fontsize{13.5}{15}\selectfont,
      at={(axis description cs:0.995,0.985)}, anchor=north east,
      inner sep=1pt, legend cell align=left},
  },
  markstyle/.style 2 args={only marks, mark=o, mark size=2.5pt,
    mark options={draw=#1, fill=white, line width=#2}},
}

\begin{document}
\begin{tikzpicture}
\path[use as bounding box] (0,0) rectangle (982.5pt,337.5pt);

% panel (a)
\begin{axis}[stackaxis, at={(57.5pt,45.75pt)}, width=414pt, height=273.75pt,
  xlabel style={at={(axis description cs:0.497,-0.12)}, anchor=center},
  ylabel style={at={(axis description cs:-0.098,0.463)}, anchor=center},
  legend entries={\hspace{4pt}Stack A}]
\pgfplotsinvokeforeach{a,b,c,d,e}{
  \addplot[markstyle={markA}{0.75pt}] table[x=x, y=#1] {\stackA};
}
\draw[decorate, decoration={brace, amplitude=10pt}, line width=1.1pt, black!85]
  (axis cs:238.5,1.017) -- (axis cs:264.6,1.017);
\node[font=\fontsize{11}{13}\selectfont, text=black!85] at (axis cs:252.4,1.148) {Evaluation of HRT};
\end{axis}

% panel (b)
\begin{axis}[stackaxis, at={(557.25pt,42pt)}, width=413.25pt, height=270.75pt,
  yticklabel style={/pgf/number format/.cd, fixed, fixed zerofill, precision=2},
  xlabel style={at={(axis description cs:0.499,-0.119)}, anchor=center},
  ylabel style={at={(axis description cs:-0.131,0.46)}, anchor=center},
  legend entries={\hspace{4pt}Stack B}]
\pgfplotsinvokeforeach{a,b,c,d,e}{
  \addplot[markstyle={markB}{0.85pt}] table[x=x, y=#1] {\stackB};
}
\draw[decorate, decoration={brace, amplitude=10pt}, line width=1.1pt, black!85]
  (axis cs:240.5,1.09) -- (axis cs:267.2,1.09);
\node[font=\fontsize{11}{13}\selectfont, text=black!85] at (axis cs:254.9,1.228) {Evaluation of HRT};
\end{axis}

\node[font=\bfseries\fontsize{10}{12}\selectfont] at (13.9pt,325pt) {(a)};
\node[font=\bfseries\fontsize{10}{12}\selectfont] at (506.6pt,312.75pt) {(b)};
\end{tikzpicture}
\end{document}
